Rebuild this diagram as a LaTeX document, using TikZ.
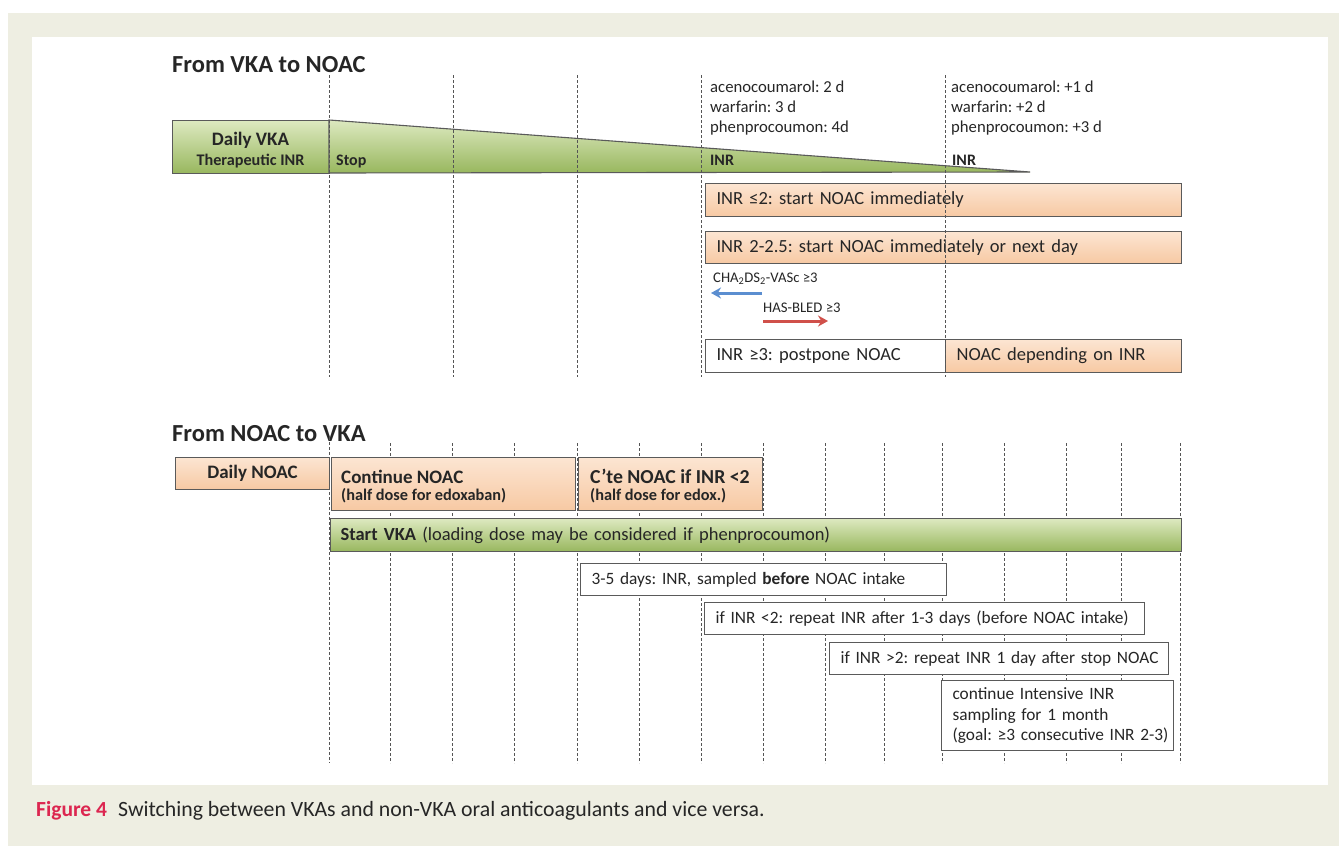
\documentclass[tikz,border=0pt]{standalone}
\usepackage{fontspec}
\setmainfont{Carlito}
\usetikzlibrary{arrows.meta}
\definecolor{bgbeige}{HTML}{EEEEE2}
\definecolor{boxgray}{HTML}{5A5A5A}
\definecolor{linegray}{HTML}{555555}
\definecolor{orTop}{HTML}{FCE5D2}
\definecolor{orBot}{HTML}{F7C9A3}
\definecolor{grTop}{HTML}{DDE9C0}
\definecolor{grBot}{HTML}{98B75E}
\definecolor{arrblue}{HTML}{5B8ED0}
\definecolor{arrred}{HTML}{D0504A}
\definecolor{figred}{HTML}{DC2650}
\definecolor{txt}{HTML}{262626}
\newcommand\fsz[2]{\fontsize{#1}{#2}\selectfont}
\frenchspacing
\begin{document}
\frenchspacing
\begin{tikzpicture}[x=1pt,y=-1pt,
  every node/.style={text=txt},
  tline/.style={draw=linegray, line width=1pt, dash pattern=on 3pt off 2pt},
  obox/.style={draw=boxgray, line width=1.1pt, top color=orTop, bottom color=orBot,
    anchor=north west, inner xsep=11pt, inner ysep=0pt, align=left},
  wbox/.style={draw=boxgray, line width=1.1pt, fill=white,
    anchor=north west, inner xsep=11pt, inner ysep=0pt, align=left},
  gbox/.style={draw=boxgray, line width=1.1pt, top color=grTop, bottom color=grBot,
    anchor=north west, inner xsep=10pt, inner ysep=0pt, align=left},
  lbl/.style={anchor=base west, inner sep=0pt},
  ttl/.style={anchor=base west, inner sep=0pt, font=\bfseries\fsz{24.5}{28}},
  drug/.style={anchor=base west, inner sep=0pt, font=\fsz{16.7}{20}},
  arr/.style={line width=3pt, -{Stealth[length=10pt,width=11pt]}}
]
\useasboundingbox (0,0) rectangle (1339,846);
% frame
\fill[bgbeige] (8,13) rectangle (1339,846);
\fill[white] (32,37) rectangle (1328,785);

% ===================== From VKA to NOAC =====================
\node[ttl] (t1) at (172,72) {From VKA to NOAC};

\node[gbox, inner sep=0pt, minimum width=157pt, minimum height=53pt] (dvka) at (172,120) {};
\node[anchor=base, inner sep=0pt, font=\bfseries\fsz{19}{22}] (dvka1) at (250.5,145) {Daily VKA};
\node[anchor=base, inner sep=0pt, font=\bfseries\fsz{16.2}{19}] (dvka2) at (250.5,165) {Therapeutic INR};

\shade[top color=grTop, bottom color=grBot] (329,120) -- (1030,172) -- (329,173) -- cycle;
\draw[boxgray, line width=1.1pt] (329,173) -- (329,120) -- (1030,172) -- (329,173);

\node[lbl, font=\bfseries\fsz{16}{19}] (stop) at (336,165) {Stop};
\node[lbl, font=\bfseries\fsz{16}{19}] (inr1) at (710,165) {INR};
\node[lbl, font=\bfseries\fsz{16}{19}] (inr2) at (952,165) {INR};

\node[drug] (a1) at (710,92) {acenocoumarol: 2 d};
\node[drug] (a2) at (710,112) {warfarin: 3 d};
\node[drug] (a3) at (710,132) {phenprocoumon: 4d};
\node[drug] (b1) at (951,92) {acenocoumarol: +1 d};
\node[drug] (b2) at (951,112) {warfarin: +2 d};
\node[drug] (b3) at (951,132) {phenprocoumon: +3 d};

\node[obox, text width=454pt, minimum height=33pt, font=\fsz{18.5}{22}]
  (inrle) at (705,183) {\mbox{INR ≤2: start NOAC immediately}};
\node[obox, text width=454pt, minimum height=32pt, font=\fsz{18.5}{22}]
  (inr22) at (705,231) {\mbox{INR 2-2.5: start NOAC immediately or next day}};

\node[lbl, font=\fsz{14.7}{17}] (cha) at (713,282) {CHA\textsubscript{2}DS\textsubscript{2}-VASc ≥3};
\coordinate (cha1) at (762,293);
\coordinate (cha2) at (711,293);
\draw[arr, arrblue] (cha1) -- (cha2);
\node[lbl, font=\fsz{14.7}{17}] (hb) at (763,312) {HAS-BLED ≥3};
\coordinate (hb1) at (763,321);
\coordinate (hb2) at (828,321);
\draw[arr, arrred] (hb1) -- (hb2);

\node[wbox, text width=218pt, minimum height=33pt, font=\fsz{18.5}{22}]
  (inrge) at (705,339) {\mbox{INR ≥3: postpone NOAC}};
\node[obox, text width=214pt, minimum height=33pt, font=\fsz{18.5}{22}]
  (ndep) at (945,339) {\mbox{NOAC depending on INR}};

% top dashed lines (drawn over)
\foreach \xx in {329,453,577,701,945}
  \draw[tline] (\xx,75) -- (\xx,377);

% ===================== From NOAC to VKA =====================
\node[ttl] (t2) at (172,441) {From NOAC to VKA};

% bottom dashed lines (behind)
\draw[tline] (329,437) -- (329,763);
\foreach \xx in {390,452,514,577,639,701,763,825,884,942,1004,1066,1121,1180}
  \draw[tline] (\xx,443) -- (\xx,763);

\node[obox, align=center, inner xsep=0pt, minimum width=154pt, minimum height=32pt,
  font=\bfseries\fsz{19}{22}] (dnoac) at (175,457) {Daily NOAC};

\node[obox, inner sep=0pt, minimum width=244pt, minimum height=53pt] (cont) at (331,457) {};
\node[lbl, font=\bfseries\fsz{19}{22}] (cont1) at (341,483) {Continue NOAC};
\node[lbl, font=\bfseries\fsz{16.3}{19}] (cont2) at (341,500) {(half dose for edoxaban)};
\node[obox, inner sep=0pt, minimum width=184pt, minimum height=53pt] (cte) at (578,457) {};
\node[lbl, font=\bfseries\fsz{19.8}{22}] (cte1) at (590,483) {C’te NOAC if INR <2};
\node[lbl, font=\bfseries\fsz{16.3}{19}] (cte2) at (590,500) {(half dose for edox.)};

\node[gbox, text width=831pt, minimum height=33pt, font=\fsz{18.5}{22}] (svka) at (330,518)
  {\mbox{\textbf{Start VKA} (loading dose may be considered if phenprocoumon)}};

\node[wbox, text width=344pt, minimum height=32pt, font=\fsz{17.3}{20}] (d35) at (580,563)
  {\mbox{3-5 days: INR, sampled \textbf{before} NOAC intake}};
\node[wbox, text width=418pt, minimum height=32pt, font=\fsz{17.3}{20}] (ilt) at (704,602)
  {\mbox{if INR <2: repeat INR after 1-3 days (before NOAC intake)}};
\node[wbox, text width=317pt, minimum height=32pt, font=\fsz{17.3}{20}] (igt) at (829,642)
  {\mbox{if INR >2: repeat INR 1 day after stop NOAC}};
\node[wbox, text width=210pt, minimum height=70pt, font=\fsz{17.3}{20.5}] (cint) at (941,680)
  {\mbox{continue Intensive INR}\\\mbox{sampling for 1 month}\\\mbox{(goal: ≥3 consecutive INR 2-3)}};

% caption
\node[lbl, font=\bfseries\fsz{21.5}{24}, text=figred] (fig) at (36,816) {Figure 4};
\node[lbl, font=\fsz{21.8}{24}] (cap) at (118,816)
  {Switching between VKAs and non-VKA oral anticoagulants and vice versa.};
\end{tikzpicture}
\end{document}
